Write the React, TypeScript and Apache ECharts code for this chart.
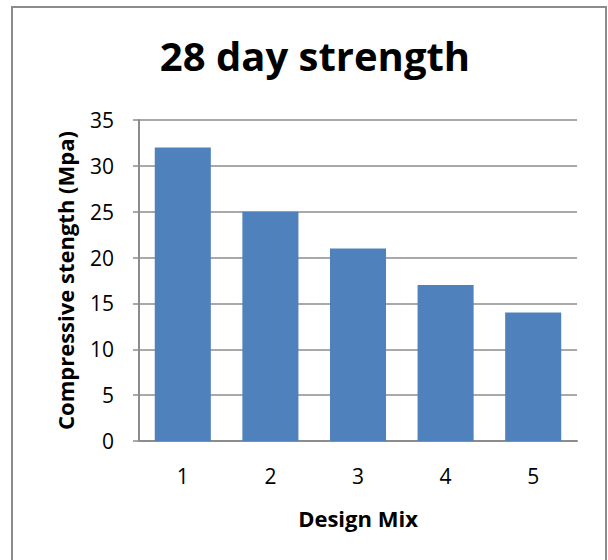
import React, { useEffect, useRef } from "react";
import * as echarts from "echarts";

// Compressive strength of each design mix after 28 days of curing
const designMixes = ["1", "2", "3", "4", "5"];
const strengthMpa = [32, 25, 21, 17, 14];
const yTicks = { min: 0, max: 35, interval: 5 };

const FONT = "Open Sans";

export default function App() {
  const ref = useRef<HTMLDivElement>(null);

  useEffect(() => {
    if (!ref.current) return;
    const chart = echarts.init(ref.current, undefined, { renderer: "svg" });
    chart.setOption({
      animation: false,
      backgroundColor: "#ffffff",
      title: {
        text: "28 day strength",
        left: 310,
        top: 30,
        textAlign: "center",
        textStyle: {
          fontFamily: FONT,
          fontWeight: "bold",
          fontSize: 40,
          color: "#000000",
        },
      },
      graphic: [
        {
          type: "rect",
          shape: { x: 12, y: 7, width: 594, height: 600 },
          style: { fill: "none", stroke: "#8c8c8c", lineWidth: 2 },
          silent: true,
        },
      ],
      grid: { left: 139, right: 31, top: 120, bottom: 119 },
      xAxis: {
        type: "category",
        data: designMixes,
        name: "Design Mix",
        nameLocation: "middle",
        nameGap: 66,
        nameTextStyle: {
          fontFamily: FONT,
          fontWeight: "bold",
          fontSize: 22,
          color: "#000000",
        },
        axisLine: { lineStyle: { color: "#8c8c8c", width: 2 } },
        axisTick: { show: false },
        axisLabel: {
          fontFamily: FONT,
          fontSize: 21,
          color: "#000000",
          margin: 24,
        },
      },
      yAxis: {
        type: "value",
        min: yTicks.min,
        max: yTicks.max,
        interval: yTicks.interval,
        name: "Compressive stength (Mpa)",
        nameLocation: "middle",
        nameGap: 63,
        nameRotate: 90,
        nameTextStyle: {
          fontFamily: FONT,
          fontWeight: "bold",
          fontSize: 22,
          color: "#000000",
        },
        axisLine: { show: true, lineStyle: { color: "#8c8c8c", width: 2 } },
        axisTick: { show: true, length: 6, lineStyle: { color: "#8c8c8c", width: 1.5 } },
        splitLine: { show: true, lineStyle: { color: "#8c8c8c", width: 1.5 } },
        axisLabel: {
          fontFamily: FONT,
          fontSize: 21,
          color: "#000000",
          margin: 25,
        },
      },
      series: [
        {
          type: "bar",
          data: strengthMpa,
          barCategoryGap: "36%",
          itemStyle: { color: "#4f81bd" },
        },
      ],
    });
    return () => chart.dispose();
  }, []);

  return (
    <div
      ref={ref}
      style={{ position: "fixed", left: 0, top: 0, width: 608, height: 560 }}
    />
  );
}
